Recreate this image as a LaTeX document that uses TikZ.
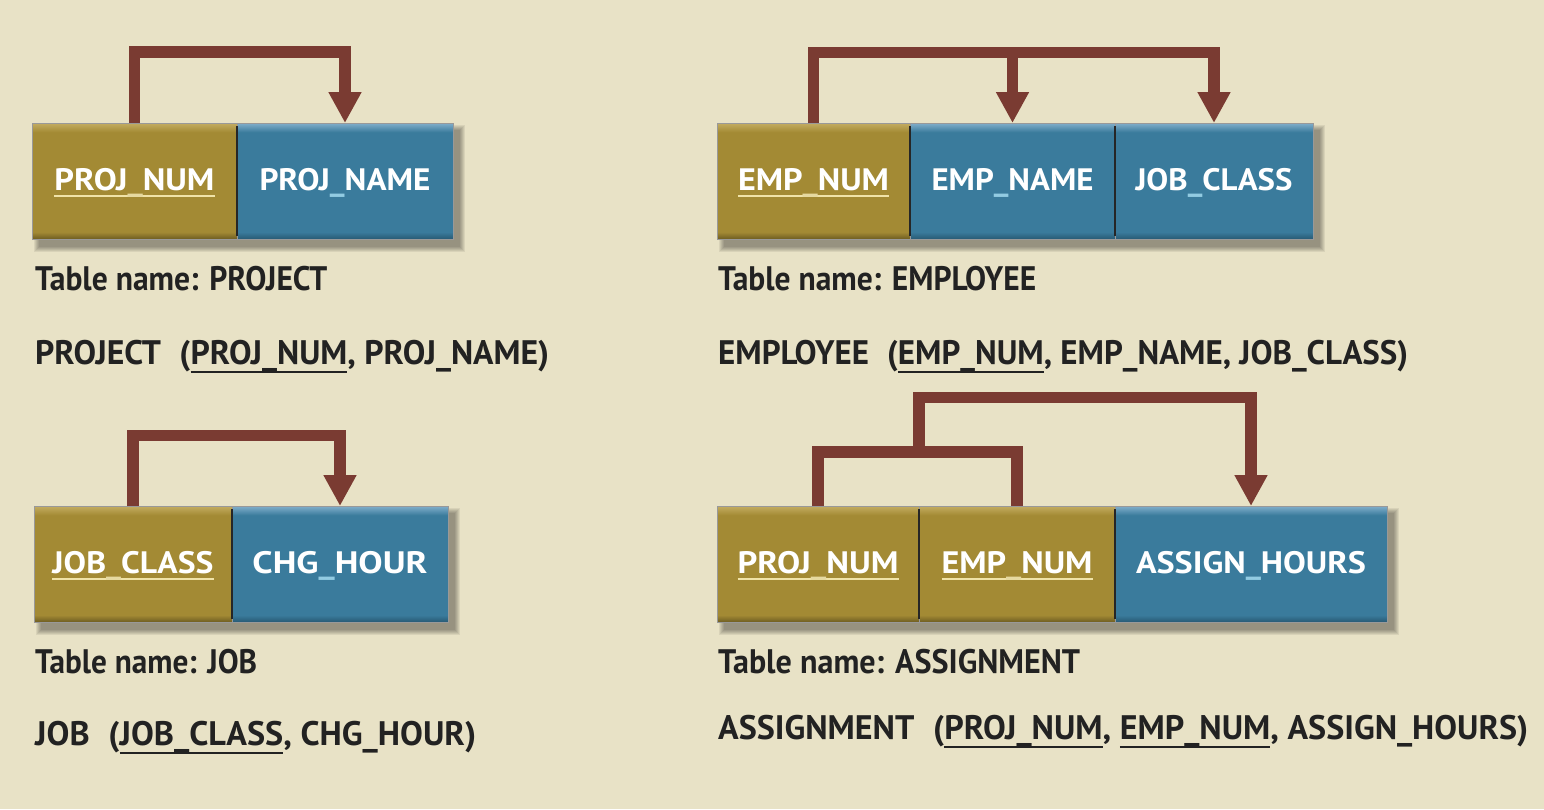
\documentclass[tikz,border=0pt]{standalone}
\usepackage{fontspec}
\setmainfont{PT Sans}
\usepackage{graphicx}
\usetikzlibrary{arrows.meta}
\definecolor{bg}{HTML}{E8E2C6}
\definecolor{olB}{HTML}{A38A34}
\definecolor{olL}{HTML}{C4AD62}
\definecolor{olD}{HTML}{6E5D22}
\definecolor{blB}{HTML}{3A7B9C}
\definecolor{blL}{HTML}{82AFCB}
\definecolor{blD}{HTML}{285A74}
\definecolor{arrowc}{HTML}{7A3B32}
\definecolor{txt}{HTML}{222222}
\definecolor{ulw}{HTML}{F0E3A8}
\definecolor{usy}{HTML}{E6D9A0}
\definecolor{usb}{HTML}{92CBE2}
\pgfdeclareverticalshading{olivesh}{100bp}{color(0bp)=(olD); color(25bp)=(olD); color(28bp)=(olB); color(71bp)=(olB); color(75bp)=(olL); color(100bp)=(olL)}
\pgfdeclareverticalshading{bluesh}{100bp}{color(0bp)=(blD); color(25bp)=(blD); color(28bp)=(blB); color(71bp)=(blB); color(75bp)=(blL); color(100bp)=(blL)}
\newsavebox\ukbox
\newcommand\fitw[2]{\resizebox{#1pt}{\height}{#2}}
\newcommand\ukeyw[1]{\sbox\ukbox{#1}\rlap{\color{ulw}\rule[-7pt]{\wd\ukbox}{2pt}}\usebox\ukbox}
\newcommand\ukeyd[1]{\sbox\ukbox{#1}\rlap{\rule[-9pt]{\wd\ukbox}{2pt}}\usebox\ukbox}
\newcommand\uscY{{\color{usy}\_}}
\newcommand\uscB{{\color{usb}\_}}
\newcommand\tshadow[4]{\foreach \s in {0,1,2,3,4,5}{\fill[black,opacity=0.065] ({#1+2+\s},{#2+2+\s}) rectangle ({#3+12-\s},{#4+13-\s});}}
\begin{document}
\begin{tikzpicture}[x=1pt,y=-1pt,
  cellbase/.style={rectangle, inner sep=0pt, outer sep=0pt, minimum height=116pt,
    text height=18pt, text depth=0pt, text=white, font=\fontsize{31}{36}\selectfont\bfseries,
    draw=black!40, line width=0.8pt},
  olcell/.style={cellbase, shade, shading=olivesh},
  blcell/.style={cellbase, shade, shading=bluesh},
  divider/.style={draw=black!85, line width=2pt},
  lbl/.style={anchor=base west, inner sep=0pt, text=txt, font=\fontsize{34}{40}\selectfont\bfseries},
  fdl/.style={draw=arrowc, line width=11.5pt, line join=miter},
  fd/.style={fdl, -{Triangle[width=31pt,length=31pt]}}]
\fill[bg] (0,0) rectangle (1544,809);
\useasboundingbox (0,0) rectangle (1544,809);
% shadows
\tshadow{32}{123}{453}{239}
\tshadow{717}{123}{1313}{239}
\tshadow{34}{506}{448}{622}
\tshadow{717}{506}{1387}{622}
% PROJECT
\node[olcell, minimum width=205pt] (pnum) at (134.5,181) {\fitw{160}{\ukeyw{PROJ\uscY NUM}}};
\node[blcell, minimum width=216pt] (pname) at (345,181) {\fitw{171}{PROJ\uscB NAME}};
% EMPLOYEE
\node[olcell, minimum width=193pt] (enum) at (813.5,181) {\fitw{151}{\ukeyw{EMP\uscY NUM}}};
\node[blcell, minimum width=205pt] (ename) at (1012.5,181) {\fitw{162}{EMP\uscB NAME}};
\node[blcell, minimum width=198pt] (ejob) at (1214,181) {\fitw{157}{JOB\uscB CLASS}};
% JOB
\node[olcell, minimum width=198pt] (jcls) at (133,564) {\fitw{161}{\ukeyw{JOB\uscY CLASS}}};
\node[blcell, minimum width=216pt] (jchg) at (340,564) {\fitw{175}{CHG\uscB HOUR}};
% ASSIGNMENT
\node[olcell, minimum width=202pt] (apn) at (818,564) {\fitw{161}{\ukeyw{PROJ\uscY NUM}}};
\node[olcell, minimum width=196pt] (aen) at (1017,564) {\fitw{151}{\ukeyw{EMP\uscY NUM}}};
\node[blcell, minimum width=272pt] (ahours) at (1251,564) {\fitw{230}{ASSIGN\uscB HOURS}};
% cell dividers
\draw[divider] ([yshift=-3pt]pname.north west) -- ([yshift=3pt]pname.south west);
\draw[divider] ([yshift=-3pt]ename.north west) -- ([yshift=3pt]ename.south west);
\draw[divider] ([yshift=-3pt]ejob.north west) -- ([yshift=3pt]ejob.south west);
\draw[divider] ([yshift=-3pt]jchg.north west) -- ([yshift=3pt]jchg.south west);
\draw[divider] ([yshift=-3pt]aen.north west) -- ([yshift=3pt]aen.south west);
\draw[divider] ([yshift=-3pt]ahours.north west) -- ([yshift=3pt]ahours.south west);
% dependency arrows
\coordinate (t1) at (0,52);
\coordinate (t2) at (0,52.5);
\coordinate (t3) at (0,435.5);
\coordinate (t4) at (0,452);
\coordinate (t5) at (0,397.5);
\draw[fd] (pnum.north) -- (pnum.north |- t1) -- (pname.north |- t1) -- (pname.north);
\draw[fd] (enum.north) -- (enum.north |- t2) -- (ejob.north |- t2) -- (ejob.north);
\draw[fd] (ename.north |- t2) -- (ename.north);
\draw[fd] (jcls.north) -- (jcls.north |- t3) -- (jchg.north |- t3) -- (jchg.north);
\draw[fdl] (apn.north) -- (apn.north |- t4) -- (aen.north |- t4) -- (aen.north);
\draw[fd] (apn.north east |- t4) -- (apn.north east |- t5) -- (ahours.north |- t5) -- (ahours.north);
% labels
\node[lbl] (l1) at (35,290) {\fitw{292}{Table name: PROJECT}};
\node[lbl] (r1) at (35,364) {\fitw{514}{PROJECT\hspace{0.55em}(\ukeyd{PROJ\_NUM}, PROJ\_NAME)}};
\node[lbl] (l2) at (718,290) {\fitw{318}{Table name: EMPLOYEE}};
\node[lbl] (r2) at (718,364) {\fitw{690}{EMPLOYEE\hspace{0.55em}(\ukeyd{EMP\_NUM}, EMP\_NAME, JOB\_CLASS)}};
\node[lbl] (l3) at (35,673) {\fitw{222}{Table name: JOB}};
\node[lbl] (r3) at (35,745) {\fitw{441}{JOB\hspace{0.55em}(\ukeyd{JOB\_CLASS}, CHG\_HOUR)}};
\node[lbl] (l4) at (718,673) {\fitw{362}{Table name: ASSIGNMENT}};
\node[lbl] (r4) at (718,739) {\fitw{810}{ASSIGNMENT\hspace{0.55em}(\ukeyd{PROJ\_NUM}, \ukeyd{EMP\_NUM}, ASSIGN\_HOURS)}};
\end{tikzpicture}
\end{document}
